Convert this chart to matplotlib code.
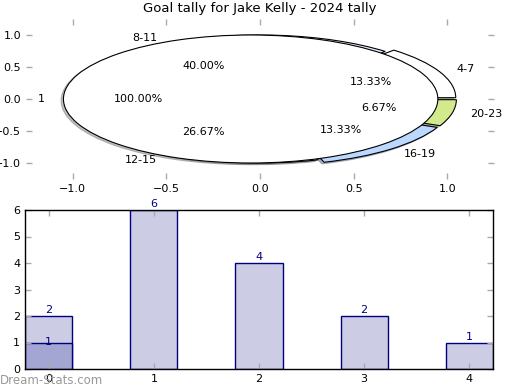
import matplotlib
matplotlib.use("Agg")
import matplotlib.pyplot as plt

# Data
title = "Goal tally for Jake Kelly - 2024 tally"
periods = ["4-7", "8-11", "12-15", "16-19", "20-23"]
period_goals = [2, 6, 4, 2, 1]
period_colors = ["#ffffff", "#e4ecff", "#d4e0ff", "#bbd8ff", "#d2ea8c"]
period_explode = [0.05, 0.0, 0.0, 0.05, 0.05]
inner_labels = ["1"]
inner_values = [1]

bar_x = [0, 1, 2, 3, 4]
bar_values = [2, 6, 4, 2, 1]
overlay_x = [0]
overlay_values = [1]

fig = plt.figure(figsize=(5.2, 3.9), dpi=100)

shadow_opts = dict(ox=-0.009, oy=-0.018, shade=0.5)

# ---- Pie axes ----
ax1 = fig.add_axes([26/520, 1-179/390, 468/520, 160/390])
ax1.pie(period_goals, labels=periods, colors=period_colors, explode=period_explode,
        autopct="%.2f%%", startangle=0, shadow=shadow_opts, frame=True,
        wedgeprops=dict(edgecolor="black", linewidth=0.8),
        textprops=dict(fontsize=8))
ax1.pie(inner_values, labels=inner_labels, colors=["white"], explode=[0.05],
        autopct="%.2f%%", startangle=0, shadow=shadow_opts, frame=True,
        wedgeprops=dict(edgecolor="black", linewidth=0.8),
        textprops=dict(fontsize=8))
ax1.set_aspect("auto")
ax1.set_xlim(-1.25, 1.25)
ax1.set_ylim(-1.25, 1.25)
ax1.set_xticks([-1.0, -0.5, 0.0, 0.5, 1.0])
ax1.set_yticks([-1.0, -0.5, 0.0, 0.5, 1.0])
for s in ax1.spines.values():
    s.set_visible(False)
ax1.tick_params(direction="in", length=4, color="#aaaaaa", labelsize=8,
                top=True, right=True, width=1)
ax1.set_title(title, fontsize=9.5, pad=5)

# ---- Bar axes ----
ax2 = fig.add_axes([25/520, 1-369/390, 468/520, 159/390])
ax2.bar(bar_x, bar_values, width=0.45, color="#ccccE4", edgecolor="#000080", linewidth=1)
ax2.bar(overlay_x, overlay_values, width=0.45, color="#a3a6d2", edgecolor="#000080", linewidth=1)
for x, v in zip(bar_x, bar_values):
    ax2.annotate(str(v), (x, v), xytext=(0, 4), textcoords="offset points",
                 ha="center", va="center", color="#000080", fontsize=8)
for x, v in zip(overlay_x, overlay_values):
    ax2.annotate(str(v), (x, v), xytext=(0, 0.5), textcoords="offset points",
                 ha="center", va="center", color="#000080", fontsize=8)
ax2.set_xlim(-0.225, 4.225)
ax2.set_ylim(0, 6)
ax2.set_xticks(bar_x)
ax2.set_yticks([0, 1, 2, 3, 4, 5, 6])
ax2.tick_params(direction="in", length=4, color="#aaaaaa", labelsize=8,
                top=True, right=True, width=1)
for s in ax2.spines.values():
    s.set_color("black")
    s.set_linewidth(1)

fig.text(0.0, 1-381/390, "Dream-Stats.com", color="#999999", fontsize=8.5,
         ha="left", va="center")

fig.savefig("out.png", dpi=100)
